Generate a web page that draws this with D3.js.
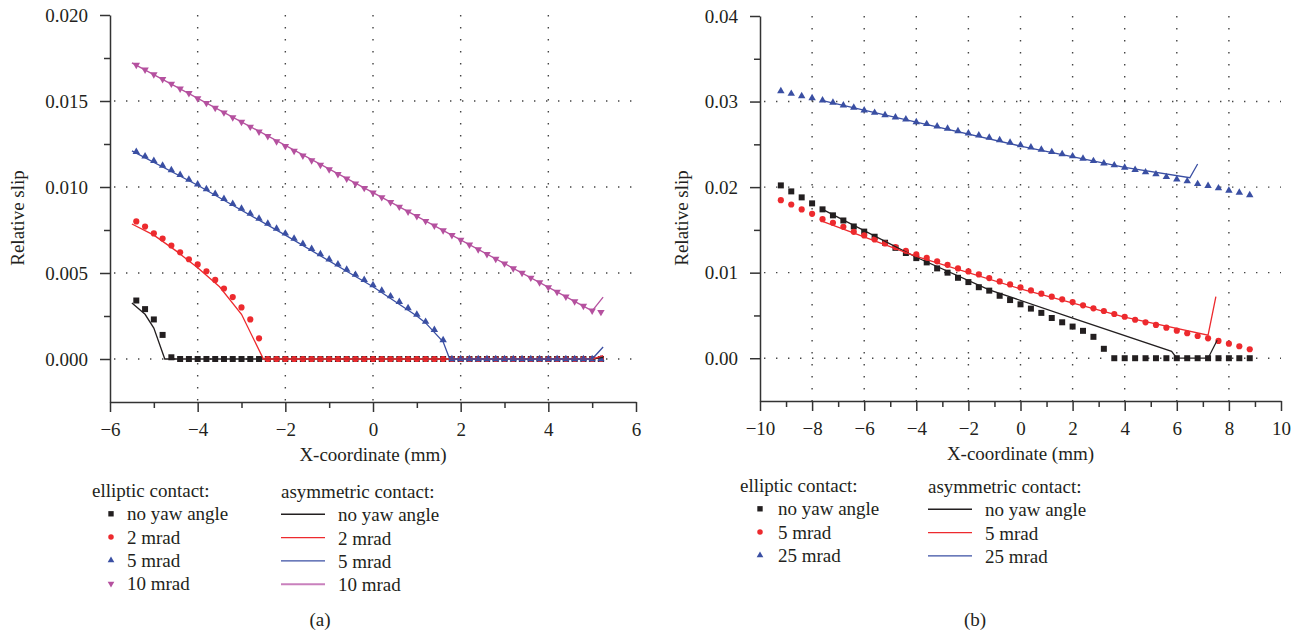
<!DOCTYPE html>
<html>
<head>
<meta charset="utf-8">
<script src="https://cdn.jsdelivr.net/npm/d3@7"></script>
<style>
  body { margin: 0; background: #fff; }
</style>
</head>
<body>
<div id="chart"></div>
<script>
// ---------- panel (a) data ----------
let aX = [-5.4, -5.2, -5.0, -4.8, -4.6, -4.4, -4.2, -4.0, -3.8, -3.6, -3.4, -3.2, -3.0, -2.8, -2.6, -2.4, -2.2, -2.0,
  -1.8, -1.6, -1.4, -1.2, -1.0, -0.8, -0.6, -0.4, -0.2, 0.0, 0.2, 0.4, 0.6, 0.8, 1.0, 1.2, 1.4, 1.6, 1.8, 2.0,
  2.2, 2.4, 2.6, 2.8, 3.0, 3.2, 3.4, 3.6, 3.8, 4.0, 4.2, 4.4, 4.6, 4.8, 5.0, 5.2];
let aNoYaw = [0.0034, 0.0029, 0.0023, 0.0014, 0.0001, 0, 0, 0, 0, 0, 0, 0, 0, 0, 0, 0, 0, 0,
  0, 0, 0, 0, 0, 0, 0, 0, 0, 0, 0, 0, 0, 0, 0, 0, 0, 0, 0, 0,
  0, 0, 0, 0, 0, 0, 0, 0, 0, 0, 0, 0, 0, 0, 0, 0];
let a2mrad = [0.0080, 0.0077, 0.0073, 0.0070, 0.0066, 0.0062, 0.0058, 0.0055, 0.0051, 0.0046, 0.0041, 0.0036, 0.0030, 0.0023, 0.0012, 0, 0, 0,
  0, 0, 0, 0, 0, 0, 0, 0, 0, 0, 0, 0, 0, 0, 0, 0, 0, 0, 0, 0,
  0, 0, 0, 0, 0, 0, 0, 0, 0, 0, 0, 0, 0, 0, 0, 0];
let a5mrad = [0.01205, 0.01178, 0.01152, 0.01125, 0.01098, 0.01071, 0.01043, 0.01016, 0.00988, 0.00960, 0.00931, 0.00902, 0.00874, 0.00845, 0.00816, 0.00787, 0.00758, 0.00730,
  0.00700, 0.00670, 0.00640, 0.00610, 0.00580, 0.00550, 0.00520, 0.00490, 0.00460, 0.00430, 0.00398, 0.00365, 0.00332, 0.00296, 0.00258, 0.00217, 0.00170, 0.00110, 0, 0,
  0, 0, 0, 0, 0, 0, 0, 0, 0, 0, 0, 0, 0, 0, 0, 0];
let a10mrad = [0.01710, 0.01682, 0.01655, 0.01627, 0.01600, 0.01572, 0.01545, 0.01515, 0.01488, 0.01460, 0.01433, 0.01405, 0.01378, 0.01350, 0.01322, 0.01295, 0.01265, 0.01237,
  0.01210, 0.01182, 0.01155, 0.01128, 0.01102, 0.01075, 0.01048, 0.01020, 0.00994, 0.00967, 0.00940, 0.00912, 0.00885, 0.00857, 0.00830, 0.00802, 0.00775, 0.00747, 0.00720, 0.00692,
  0.00665, 0.00637, 0.00610, 0.00582, 0.00555, 0.00527, 0.00500, 0.00472, 0.00445, 0.00417, 0.00390, 0.00362, 0.00335, 0.00308, 0.00281, 0.00273];

// asymmetric contact curves (a)
let aLineNoYawX = [-5.5, -5.2, -5.0, -4.75, 5.0, 5.25];
let aLineNoYawY = [0.00325, 0.0026, 0.0018, 0, 0, 0.0001];
let aLine2X = [-5.5, -5.0, -4.5, -4.0, -3.5, -3.0, -2.5, 5.0, 5.25];
let aLine2Y = [0.00785, 0.0072, 0.0063, 0.0053, 0.0042, 0.0026, 0, 0, 0.0002];
let aLine5X = [-5.5, -4.0, -2.0, 0, 1.0, 1.2, 1.6, 1.75, 5.0, 5.25];
let aLine5Y = [0.0121, 0.0101, 0.0072, 0.0042, 0.0025, 0.0021, 0.0010, 0, 0, 0.0007];
let aLine10X = [-5.5, 0, 5.0, 5.25];
let aLine10Y = [0.01722, 0.00967, 0.00280, 0.0036];

let aXTicks = [-6, -4, -2, 0, 2, 4, 6];
let aXMinor = [-5, -3, -1, 1, 3, 5];
let aXGrid = [-4, -2, 0, 2, 4];
let aYTicks = [0, 0.005, 0.010, 0.015, 0.020];
let aYMinor = [0.0025, 0.0075, 0.0125, 0.0175];
let aYGrid = [0, 0.005, 0.010, 0.015];
let aLegend = ["no yaw angle", "2 mrad", "5 mrad", "10 mrad"];

// ---------- panel (b) data ----------
let bX = [-9.2, -8.8, -8.4, -8.0, -7.6, -7.2, -6.8, -6.4, -6.0, -5.6, -5.2, -4.8, -4.4, -4.0, -3.6, -3.2, -2.8, -2.4, -2.0, -1.6, -1.2, -0.8, -0.4,
  0.0, 0.4, 0.8, 1.2, 1.6, 2.0, 2.4, 2.8, 3.2, 3.6, 4.0, 4.4, 4.8, 5.2, 5.6, 6.0, 6.4, 6.8, 7.2, 7.6, 8.0, 8.4, 8.8];
let bNoYaw = [0.0202, 0.0195, 0.0188, 0.0181, 0.0174, 0.0167, 0.0161, 0.0154, 0.0148, 0.0142, 0.0135, 0.0129, 0.0123, 0.0117, 0.0112, 0.0105, 0.0100, 0.0094, 0.0089, 0.0083, 0.0079, 0.0073, 0.0068,
  0.0063, 0.0058, 0.0053, 0.0047, 0.0042, 0.0037, 0.0032, 0.0025, 0.0011, 0, 0, 0, 0, 0, 0, 0, 0, 0, 0, 0, 0, 0, 0];
let b5mrad = [0.01847, 0.01797, 0.01739, 0.01688, 0.01625, 0.01582, 0.01536, 0.01477, 0.01435, 0.01389, 0.01342, 0.01299, 0.01256, 0.01214, 0.01174, 0.01132, 0.01092, 0.01050, 0.01015, 0.00980, 0.00937, 0.00898, 0.00863,
  0.00828, 0.00793, 0.00754, 0.00719, 0.00688, 0.00657, 0.00618, 0.00583, 0.00552, 0.00517, 0.00485, 0.00450, 0.00420, 0.00389, 0.00357, 0.00322, 0.00292, 0.00260, 0.00233, 0.00202, 0.00170, 0.00140, 0.00105];
let b25mrad = [0.03123, 0.03092, 0.03064, 0.03041, 0.03014, 0.02987, 0.02956, 0.02929, 0.02897, 0.02870, 0.02843, 0.02816, 0.02792, 0.02761, 0.02738, 0.02711, 0.02684, 0.02656, 0.02629, 0.02606, 0.02579, 0.02549, 0.02520,
  0.02492, 0.02466, 0.02439, 0.02411, 0.02387, 0.02361, 0.02334, 0.02306, 0.02279, 0.02256, 0.02229, 0.02201, 0.02174, 0.02151, 0.02119, 0.02092, 0.02069, 0.02037, 0.02014, 0.01987, 0.01960, 0.01937, 0.01906];

// asymmetric contact curves (b)
let bLineNoYawX = [-7.6, -4.0, -1.2, 2.0, 5.8, 6.0, 7.2, 7.55];
let bLineNoYawY = [0.0174, 0.0118, 0.0080, 0.0047, 0.0008, 0, 0, 0.0021];
let bLine5X = [-7.6, -4.0, 0, 4.0, 7.2, 7.5];
let bLine5Y = [0.0160, 0.0119, 0.0081, 0.0048, 0.0027, 0.0072];
let bLine25X = [-7.6, -4.0, 0, 4.0, 6.5, 6.8];
let bLine25Y = [0.0301, 0.0276, 0.0248, 0.0223, 0.0211, 0.0227];

let bXTicks = [-10, -8, -6, -4, -2, 0, 2, 4, 6, 8, 10];
let bXMinor = [-9, -7, -5, -3, -1, 1, 3, 5, 7, 9];
let bXGrid = [-8, -6, -4, -2, 0, 2, 4, 6, 8];
let bYTicks = [0, 0.01, 0.02, 0.03, 0.04];
let bYMinor = [0.005, 0.015, 0.025, 0.035];
let bYGrid = [0, 0.01, 0.02, 0.03];
let bLegend = ["no yaw angle", "5 mrad", "25 mrad"];

// colours
let cBlack = "#231f20", cRed = "#ed2a2e", cBlue = "#3a4fa3", cMag = "#b5519f";

let svgWidth = 1305, svgHeight = 639;
let svg = d3.select("#chart").append("svg")
  .attr("width", svgWidth)
  .attr("height", svgHeight);

let fontSize = 19;
let serif = "Liberation Serif, Times New Roman, Times, Tinos, Noto Serif, DejaVu Serif, FreeSerif, serif";

// marker generators
function marker(kind, scale) {
  let s = scale || 1;
  if (kind === "square") return d3.symbol().type(d3.symbolSquare).size(36 * s)();
  if (kind === "circle") return d3.symbol().type(d3.symbolCircle).size(30 * s)();
  return d3.symbol().type(d3.symbolTriangle).size(24 * s)();
}

// small helper so every label gets the same font
function label(sel, txt) {
  return sel.append("text")
    .attr("font-family", serif)
    .attr("font-size", fontSize)
    .attr("fill", cBlack)
    .text(txt);
}

function drawPanel(cfg) {
  let x = d3.scaleLinear().domain(cfg.xDomain).range(cfg.xRange);
  let y = d3.scaleLinear().domain(cfg.yDomain).range(cfg.yRange);
  let g = svg.append("g");

  // dotted grid
  g.append("g").selectAll("line.vg").data(cfg.xGrid).enter().append("line")
    .attr("x1", d => x(d)).attr("x2", d => x(d))
    .attr("y1", cfg.yRange[1]).attr("y2", cfg.yRange[0])
    .attr("stroke", "#444").attr("stroke-width", 1.4)
    .attr("stroke-dasharray", "1.4 10.6");
  g.append("g").selectAll("line.hg").data(cfg.yGrid).enter().append("line")
    .attr("x1", cfg.xRange[0]).attr("x2", cfg.xRange[1])
    .attr("y1", d => y(d)).attr("y2", d => y(d))
    .attr("stroke", "#444").attr("stroke-width", 1.4)
    .attr("stroke-dasharray", "1.4 10.6")
    .attr("stroke-dashoffset", -4);

  // axes
  let xAx = g.append("g").attr("transform", `translate(0,${cfg.yRange[0]})`)
    .call(d3.axisBottom(x).tickValues(cfg.xTicks).tickSize(10).tickSizeOuter(0).tickPadding(11)
      .tickFormat(d3.format("d")));
  g.append("g").attr("transform", `translate(0,${cfg.yRange[0]})`)
    .call(d3.axisBottom(x).tickValues(cfg.xMinor).tickSize(6).tickFormat(""))
    .select(".domain").remove();
  let yAx = g.append("g").attr("transform", `translate(${cfg.xRange[0]},0)`)
    .call(d3.axisLeft(y).tickValues(cfg.yTicks).tickSize(10).tickSizeOuter(0).tickPadding(12)
      .tickFormat(d3.format(cfg.yFormat)));
  g.append("g").attr("transform", `translate(${cfg.xRange[0]},0)`)
    .call(d3.axisLeft(y).tickValues(cfg.yMinor).tickSize(6).tickFormat(""))
    .select(".domain").remove();

  // d3 puts sans-serif on the axis group, override it there
  xAx.attr("font-family", serif).attr("font-size", fontSize);
  yAx.attr("font-family", serif).attr("font-size", fontSize);

  g.selectAll(".domain, .tick line").attr("stroke", "#333").attr("stroke-width", 1.5);
  g.selectAll(".tick text").attr("fill", cBlack);

  // axis titles
  label(g, "X-coordinate (mm)")
    .attr("x", (cfg.xRange[0] + cfg.xRange[1]) / 2)
    .attr("y", cfg.yRange[0] + 59)
    .attr("text-anchor", "middle");
  label(g, "Relative slip")
    .attr("transform", `translate(${cfg.yLabelX},218) rotate(-90)`)
    .attr("text-anchor", "middle");

  // elliptic contact markers
  cfg.points.forEach(function(s) {
    g.append("g").selectAll("path").data(cfg.px).enter().append("path")
      .attr("d", marker(s.kind))
      .attr("transform", (d, i) => `translate(${x(d)},${y(s.values[i])})` + (s.down ? " rotate(180)" : ""))
      .attr("fill", s.color);
  });

  // asymmetric contact lines
  cfg.lines.forEach(function(s) {
    let pts = s.xs.map((d, i) => [d, s.ys[i]]);
    g.append("path")
      .datum(pts)
      .attr("fill", "none")
      .attr("stroke", s.color)
      .attr("stroke-width", 1.3)
      .attr("d", d3.line().x(d => x(d[0])).y(d => y(d[1])));
  });

  // legend
  let lg = g.append("g");
  label(lg, "elliptic contact:").attr("x", cfg.leg.x0).attr("y", cfg.leg.y0);
  label(lg, "asymmetric contact:").attr("x", cfg.leg.x1).attr("y", cfg.leg.y0 + 1);
  cfg.names.forEach(function(name, i) {
    let yy = cfg.leg.y0 + 23.3 * (i + 1);
    let s = cfg.points[i];
    lg.append("path")
      .attr("d", marker(s.kind, 0.8))
      .attr("transform", `translate(${cfg.leg.mx},${yy - 6.5})` + (s.down ? " rotate(180)" : ""))
      .attr("fill", s.color);
    label(lg, name).attr("x", cfg.leg.tx).attr("y", yy);
    lg.append("line")
      .attr("x1", cfg.leg.x1).attr("x2", cfg.leg.x1 + 44)
      .attr("y1", yy - 6).attr("y2", yy - 6)
      .attr("stroke", cfg.lines[i].legendColor || cfg.lines[i].color)
      .attr("stroke-width", i === 3 ? 2 : 1.4);
    label(lg, name).attr("x", cfg.leg.x1 + 57).attr("y", yy + 1);
  });

  label(g, cfg.caption)
    .attr("x", cfg.capX).attr("y", 626)
    .attr("text-anchor", "middle");
}

drawPanel({
  xDomain: [-6, 6], xRange: [110, 636],
  yDomain: [-0.0025, 0.020], yRange: [402, 15],
  xTicks: aXTicks, xMinor: aXMinor, xGrid: aXGrid,
  yTicks: aYTicks, yMinor: aYMinor, yGrid: aYGrid,
  yFormat: ".3f", yLabelX: 24,
  px: aX,
  points: [
    {kind: "square", values: aNoYaw, color: cBlack},
    {kind: "circle", values: a2mrad, color: cRed},
    {kind: "triangle", values: a5mrad, color: cBlue},
    {kind: "triangle", values: a10mrad, color: cMag, down: true}
  ],
  lines: [
    {xs: aLineNoYawX, ys: aLineNoYawY, color: cBlack},
    {xs: aLine2X, ys: aLine2Y, color: cRed},
    {xs: aLine5X, ys: aLine5Y, color: cBlue},
    {xs: aLine10X, ys: aLine10Y, color: cMag, legendColor: "#c980bd"}
  ],
  names: aLegend,
  leg: {x0: 92, y0: 497, mx: 111, tx: 127, x1: 281},
  caption: "(a)", capX: 320
});

drawPanel({
  xDomain: [-10, 10], xRange: [760, 1281],
  yDomain: [-0.005, 0.04], yRange: [401, 16],
  xTicks: bXTicks, xMinor: bXMinor, xGrid: bXGrid,
  yTicks: bYTicks, yMinor: bYMinor, yGrid: bYGrid,
  yFormat: ".2f", yLabelX: 688,
  px: bX,
  points: [
    {kind: "square", values: bNoYaw, color: cBlack},
    {kind: "circle", values: b5mrad, color: cRed},
    {kind: "triangle", values: b25mrad, color: cBlue}
  ],
  lines: [
    {xs: bLineNoYawX, ys: bLineNoYawY, color: cBlack},
    {xs: bLine5X, ys: bLine5Y, color: cRed},
    {xs: bLine25X, ys: bLine25Y, color: cBlue}
  ],
  names: bLegend,
  leg: {x0: 740, y0: 492, mx: 760, tx: 778, x1: 928},
  caption: "(b)", capX: 975
});
</script>
</body>
</html>
